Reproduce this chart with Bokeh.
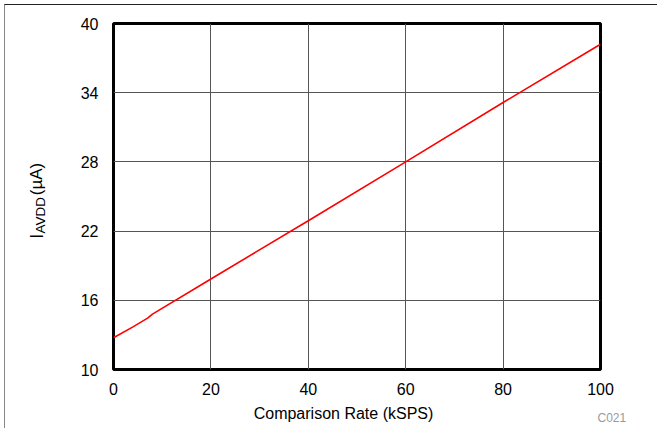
import math
from bokeh.plotting import figure
from bokeh.layouts import row, column
from bokeh.models import Range1d, FixedTicker
from bokeh.core.properties import value
from bokeh.embed import file_html
from bokeh.resources import INLINE

# data
rate_ksps = [0, 4, 7, 8, 20, 40, 60, 80, 100]
i_avdd_ua = [12.75, 13.7, 14.45, 14.8, 17.85, 22.9, 28.0, 33.15, 38.2]

x_ticks = [0, 20, 40, 60, 80, 100]
y_ticks = [10, 16, 22, 28, 34, 40]

x_label = "Comparison Rate (kSPS)"
y_label_parts = ["I", "AVDD", "(µA)"]
fig_id = "C021"

FONT = "Liberation Sans"

# layout in page pixels: root has a 4px margin and a 1px border at top/left
W1, W2 = 60, 592
H1, H2 = 397, 26
X0, Y0 = 5, 5


def blank(width, height, x0, y0):
    f = figure(width=width, height=height,
               x_range=Range1d(x0, x0 + width), y_range=Range1d(y0 + height, y0),
               x_axis_type=None, y_axis_type=None,
               output_backend="svg", toolbar_location=None,
               min_border=0, min_border_left=0, min_border_right=0,
               min_border_top=0, min_border_bottom=0)
    f.outline_line_color = None
    f.grid.visible = False
    f.background_fill_color = "white"
    f.border_fill_color = "white"
    return f


# --- y label panel
ylab = blank(W1, H1, X0, Y0)
ylab.text(x=[36], y=[252], text=[y_label_parts[0]], angle=math.pi / 2,
          text_font=value(FONT), text_font_size="18px", text_color="black",
          text_align="left", text_baseline="alphabetic")
ylab.text(x=[40], y=[246], text=[y_label_parts[1]], angle=math.pi / 2,
          text_font=value(FONT), text_font_size="13.5px", text_color="black",
          text_align="left", text_baseline="alphabetic")
ylab.text(x=[36], y=[202], text=[y_label_parts[2]], angle=math.pi / 2,
          text_font=value(FONT), text_font_size="17px", text_color="black",
          text_align="left", text_baseline="alphabetic")

# --- main chart
frame_l, frame_r, frame_t, frame_b = 113, 600, 23, 369
p = figure(width=W2, height=H1,
           x_range=Range1d(0, 100), y_range=Range1d(10, 40),
           output_backend="svg", toolbar_location=None,
           min_border_left=frame_l - (X0 + W1),
           min_border_right=(X0 + W1 + W2) - frame_r,
           min_border_top=frame_t - Y0,
           min_border_bottom=(Y0 + H1) - frame_b)
p.background_fill_color = "white"
p.border_fill_color = "white"

p.line(rate_ksps, i_avdd_ua, line_color="#ff0000", line_width=1.6)

for ax, ticks in ((p.xaxis, x_ticks), (p.yaxis, y_ticks)):
    ax.ticker = FixedTicker(ticks=ticks)
    ax.axis_line_color = None
    ax.major_tick_line_color = None
    ax.minor_tick_line_color = None
    ax.major_label_text_font = FONT
    ax.major_label_text_font_size = "16px"
    ax.major_label_text_color = "black"
p.xaxis.major_label_standoff = 7
p.yaxis.major_label_standoff = 9

for g in (p.xgrid, p.ygrid):
    g.grid_line_color = "#555555"
    g.grid_line_width = 1

p.outline_line_color = "black"
p.outline_line_width = 3
p.outline_line_alpha = 1

# --- bottom strip: x label and figure id
bot = blank(W1 + W2, H2, X0, Y0 + H1)
bot.text(x=[343], y=[413], text=[x_label],
         text_font=value(FONT), text_font_size="16px", text_color="black",
         text_align="center", text_baseline="alphabetic")
bot.text(x=[597], y=[417], text=[fig_id],
         text_font=value(FONT), text_font_size="12px", text_color="#9a9a9a",
         text_align="left", text_baseline="alphabetic")

root = column(row(ylab, p, spacing=0), bot, spacing=0,
              margin=(4, 0, 0, 4),
              styles={"border-top": "1px solid #222222", "border-left": "1px solid #888888"})

open("out.html", "w").write(file_html(root, INLINE))
